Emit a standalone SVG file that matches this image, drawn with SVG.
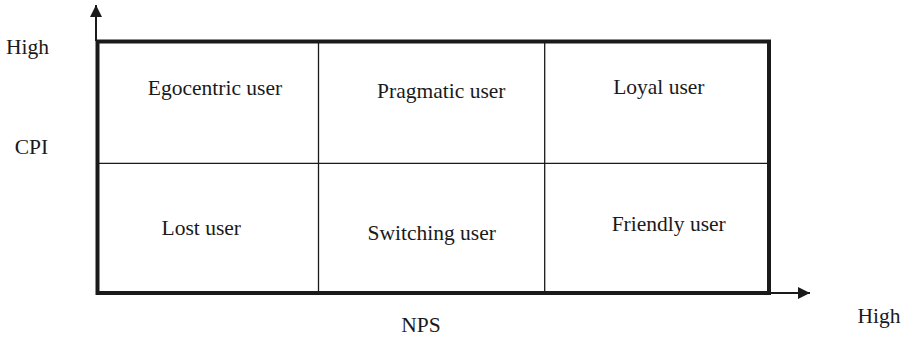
<svg xmlns="http://www.w3.org/2000/svg" width="919" height="338" viewBox="0 0 919 338">
<style>
text{font-family:"Liberation Serif","Times New Roman",serif;font-size:21.5px;fill:#1a1a1a;text-anchor:middle}
.frame{fill:none;stroke:#1a1a1a;stroke-width:4}
.grid{stroke:#1a1a1a;stroke-width:1.3}
.axis{stroke:#1a1a1a;stroke-width:2}
</style>
<defs>
<marker id="ah" viewBox="0 0 12 12" refX="12" refY="6" markerWidth="12" markerHeight="12" markerUnits="userSpaceOnUse" orient="auto">
<path d="M0,0 L12,6 L0,12 Z" fill="#1a1a1a"/>
</marker>
</defs>
<rect width="919" height="338" fill="#fff"/>
<g id="connectors">
<line class="axis" x1="96" y1="41" x2="96" y2="5" marker-end="url(#ah)"/>
<line class="axis" x1="769" y1="293" x2="810" y2="293" marker-end="url(#ah)"/>
</g>
<g id="matrix">
<rect class="frame" x="97.5" y="41.5" width="671.5" height="251.5"/>
<line class="grid" x1="318.5" y1="43" x2="318.5" y2="291"/>
<line class="grid" x1="544.7" y1="43" x2="544.7" y2="291"/>
<line class="grid" x1="99" y1="163.3" x2="767" y2="163.3"/>
</g>
<g id="axis-labels">
<text x="27.5" y="54">High</text>
<text x="31.5" y="154">CPI</text>
<text x="421" y="332">NPS</text>
<text x="879" y="323">High</text>
</g>
<g id="egocentric"><text x="215" y="95">Egocentric user</text></g>
<g id="pragmatic"><text x="441.3" y="97.7">Pragmatic user</text></g>
<g id="loyal"><text x="658.8" y="94">Loyal user</text></g>
<g id="lost"><text x="201.3" y="235">Lost user</text></g>
<g id="switching"><text x="431.7" y="240">Switching user</text></g>
<g id="friendly"><text x="668.7" y="231">Friendly user</text></g>
</svg>
